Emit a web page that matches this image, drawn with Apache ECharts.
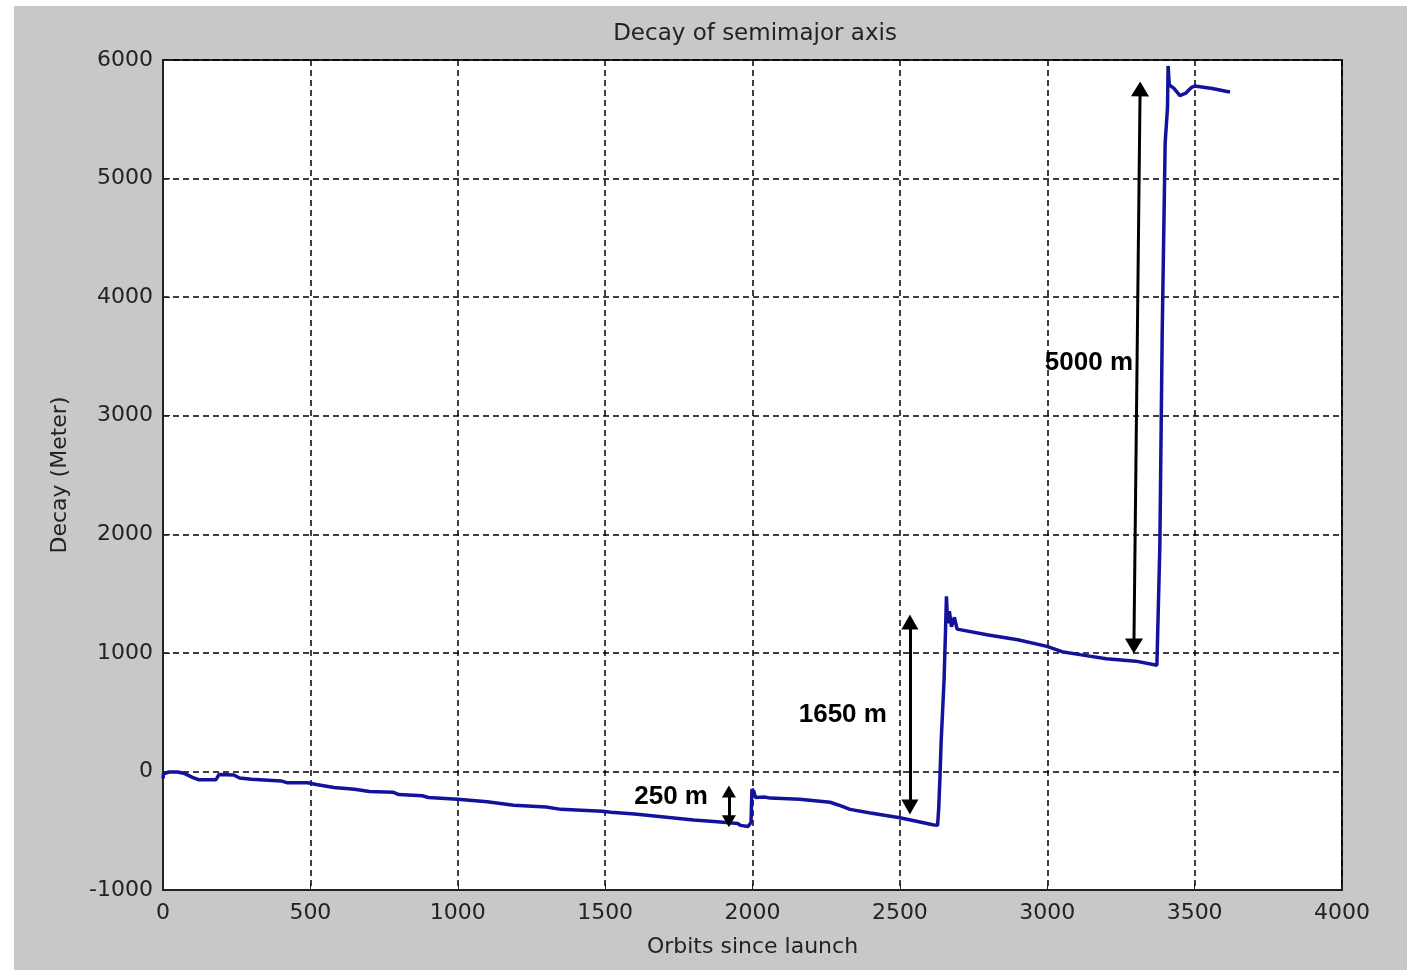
<!DOCTYPE html>
<html>
<head>
<meta charset="utf-8">
<script src="https://cdn.jsdelivr.net/npm/echarts@6/dist/echarts.min.js"></script>
<style>
  html, body { margin: 0; padding: 0; background: #fff; }
  #chart { width: 1409px; height: 970px; }
</style>
</head>
<body>
<div id="chart"></div>
<script>
// values
var orbits = [0, 2, 20, 50, 70, 100, 120, 180, 190, 240, 260, 300, 400, 420, 490, 520, 580, 650, 700, 780,
  800, 880, 900, 1000, 1100, 1190, 1300, 1350, 1490, 1520, 1600, 1700, 1800, 1880, 1950, 1960, 1985, 1995,
  1998, 2005, 2010, 2040, 2060, 2160, 2263, 2300, 2331, 2400, 2500, 2612, 2628, 2632, 2636, 2640, 2650,
  2655, 2658, 2662, 2668, 2675, 2685, 2694, 2800, 2900, 2999, 3050, 3111, 3200, 3300, 3372, 3377, 3382,
  3390, 3400, 3408, 3410, 3414, 3430, 3450, 3470, 3478, 3490, 3500, 3560, 3610, 3620];
var decay = [-60, -20, -5, -5, -15, -50, -70, -70, -25, -30, -55, -65, -80, -95, -95, -110, -135, -150, -170, -175,
  -195, -205, -220, -235, -255, -285, -300, -320, -335, -345, -360, -385, -410, -425, -440, -455, -465, -430,
  -150, -170, -220, -215, -225, -235, -260, -290, -320, -350, -390, -450, -455, -300, -50, 250, 775,
  1200, 1476, 1250, 1350, 1220, 1300, 1200, 1150, 1110, 1055, 1010, 985, 950, 930, 895, 895, 1900,
  3700, 5300, 5600, 5950, 5790, 5760, 5700, 5720, 5740, 5770, 5780, 5760, 5735, 5730];

var xTicks = [0, 500, 1000, 1500, 2000, 2500, 3000, 3500, 4000];
var yTicks = [-1000, 0, 1000, 2000, 3000, 4000, 5000, 6000];

// annotation arrows: [x1, y1, x2, y2, head width, head height] (ends at head centres)
var arrows = [
  [1920, -169, 1920, -421, 14, 12],
  [2534, 1261, 2534, -300, 17, 15],
  [3315, 5756, 3294, 1058, 18, 15]
];
// texts: [x, y, text]
var notes = [
  [1849, -210, '250 m'],
  [2456, 481, '1650 m'],
  [3291, 3449, '5000 m']
];

var points = orbits.map(function(o, i) { return [o, decay[i]]; });
var font = 'DejaVu Sans';

var chart = echarts.init(document.getElementById('chart'));
var option = {
  backgroundColor: '#fff',
  animation: false,
  graphic: [{
    type: 'rect', z: -10, silent: true,
    shape: { x: 14, y: 6, width: 1393, height: 964 },
    style: { fill: '#c8c8c8' }
  }],
  title: {
    text: 'Decay of semimajor axis',
    left: 750, top: 18, textAlign: 'center',
    textStyle: { fontFamily: font, fontSize: 23, fontWeight: 'normal', color: '#222' }
  },
  grid: {
    left: 163, right: 67, top: 60, bottom: 80,
    show: true, backgroundColor: '#fff', borderColor: '#222', borderWidth: 2
  },
  xAxis: {
    type: 'value', min: 0, max: 4000, interval: 500,
    name: 'Orbits since launch', nameLocation: 'middle', nameGap: 46,
    nameTextStyle: { fontFamily: font, fontSize: 22, color: '#222' },
    axisLine: { show: true, onZero: false, lineStyle: { color: '#222', width: 2 } },
    axisTick: { show: true, inside: true, length: 7, lineStyle: { color: '#222' } },
    axisLabel: { fontFamily: font, fontSize: 22, color: '#222', margin: 12,
      formatter: function(v) { return xTicks.indexOf(v) >= 0 ? String(v) : ''; } },
    splitLine: { show: true, lineStyle: { color: '#000', width: 1.5, type: [6, 4] } }
  },
  yAxis: {
    type: 'value', min: -1000, max: 6000, interval: 1000,
    name: 'Decay (Meter)', nameLocation: 'middle', nameGap: 92,
    nameTextStyle: { fontFamily: font, fontSize: 22, color: '#222' },
    axisLine: { show: true, lineStyle: { color: '#222', width: 2 } },
    axisTick: { show: true, inside: true, length: 7, lineStyle: { color: '#222' } },
    axisLabel: { fontFamily: font, fontSize: 22, color: '#222', margin: 10,
      formatter: function(v) { return yTicks.indexOf(v) >= 0 ? String(v) : ''; } },
    splitLine: { show: true, lineStyle: { color: '#000', width: 1.5, type: [6, 4] } }
  },
  series: [{
    type: 'line',
    data: points,
    showSymbol: false,
    lineStyle: { color: '#12129c', width: 3.5 },
    markLine: {
      silent: true,
      symbol: ['triangle', 'triangle'],
      label: { show: false },
      lineStyle: { color: '#000', width: 3, type: 'solid' },
      data: arrows.map(function(a) {
        return [
          { coord: [a[0], a[1]], symbolSize: [a[4], a[5]] },
          { coord: [a[2], a[3]], symbolSize: [a[4], a[5]] }
        ];
      })
    },
    markPoint: {
      silent: true,
      symbol: 'circle', symbolSize: 0,
      label: {
        show: true, position: 'left', distance: 0,
        formatter: function(p) { return p.name; },
        fontFamily: 'Liberation Sans', fontSize: 26, fontWeight: 'bold', color: '#000'
      },
      data: notes.map(function(n) { return { name: n[2], coord: [n[0], n[1]] }; })
    }
  }]
};
chart.setOption(option);
</script>
</body>
</html>
